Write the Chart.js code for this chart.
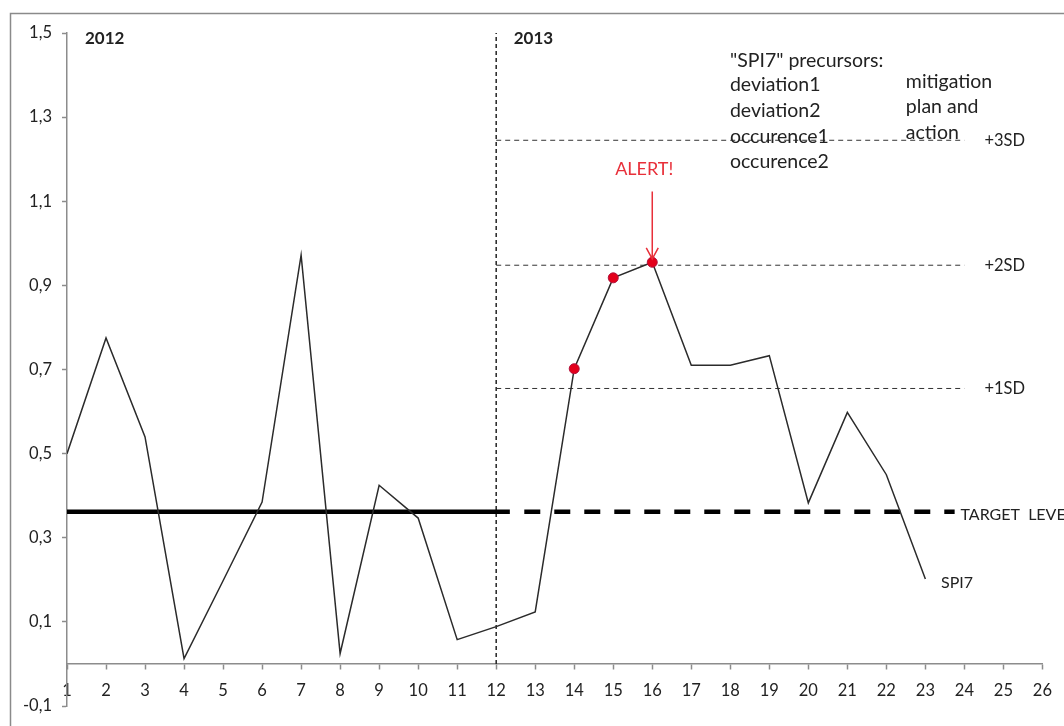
<!DOCTYPE html>
<html>
<head>
<meta charset="utf-8">
<script src="https://cdn.jsdelivr.net/npm/chart.js@4.4.1/dist/chart.umd.min.js"></script>
<style>
  html, body { margin: 0; padding: 0; background: #ffffff; }
  #wrap { width: 1064px; height: 726px; position: relative; }
</style>
</head>
<body>
<div id="wrap"><canvas id="c" width="1064" height="726"></canvas></div>
<script>
// ---- data ----
const categories = [1,2,3,4,5,6,7,8,9,10,11,12,13,14,15,16,17,18,19,20,21,22,23];
const spi7Values = [0.50,0.775,0.54,0.013,0.198,0.385,0.972,0.025,0.425,0.347,0.058,0.089,0.124,0.702,0.918,0.955,0.710,0.710,0.733,0.383,0.598,0.450,0.202];
const alertCategories = [14,15,16];
const targetLevel = 0.362;
const targetSolidRange = [1, 12.35];
const targetDashedRange = [12.72, 23.75];
const sdLevels = [0.655, 0.948, 1.245];
const sdLabels = ['+1SD','+2SD','+3SD'];
const sdRange = [12, 24];
const yearSplit = 12;
const yearSplitRange = [0, 1.5];
const yTicks = [-0.1,0.1,0.3,0.5,0.7,0.9,1.1,1.3,1.5];
const xRange = [1, 26];

const FONT = 'Lato, "Open Sans", sans-serif';
const TEXT = '#222222';
const AXIS = '#8c8c8c';
const RED = '#e8303a';

function seg(x0, x1, y) { return [{x:x0,y:y},{x:x1,y:y}]; }

const datasets = [];
// SPI7 series
datasets.push({
  label: 'SPI7',
  data: categories.map((c,i)=>({x:c,y:spi7Values[i]})),
  borderColor: '#2b2b2b',
  borderWidth: 1.5,
  tension: 0,
  pointRadius: ctx => alertCategories.includes(ctx.raw && ctx.raw.x) ? 5 : 0,
  pointBackgroundColor: '#e3001b',
  pointBorderColor: '#b0103a',
  pointBorderWidth: 1,
  order: 0
});
// Target level (solid for 2012, dashed for 2013)
datasets.push({ label:'target-solid', data: seg(targetSolidRange[0], targetSolidRange[1], targetLevel),
  borderColor:'#000', borderWidth:4.5, pointRadius:0, order: 2 });
datasets.push({ label:'target-dashed', data: seg(targetDashedRange[0], targetDashedRange[1], targetLevel),
  borderColor:'#000', borderWidth:4.5, borderDash:[16,14], pointRadius:0, order: 2 });
// SD lines
sdLevels.forEach((v,i)=>{
  datasets.push({ label: sdLabels[i], data: seg(sdRange[0], sdRange[1], v),
    borderColor:'#333', borderWidth:1, borderDash:[5,4], pointRadius:0, order: 3 });
});
// Year split vertical
datasets.push({ label:'year-split', data:[{x:yearSplit,y:yearSplitRange[0]},{x:yearSplit,y:yearSplitRange[1]}],
  borderColor:'#222', borderWidth:1.5, borderDash:[4,3], pointRadius:0, order: 3 });

const annotations = [
  {t:'2012', x:1.46, y:1.488, bold:true, size:17},
  {t:'2013', x:12.45, y:1.488, bold:true, size:17},
  {t:'"SPI7" precursors:', x:17.99, y:1.433, size:19.5},
  {t:'deviation1', x:17.99, y:1.376, size:19.5},
  {t:'deviation2', x:17.99, y:1.315, size:19.5},
  {t:'occurence1', x:17.99, y:1.253, size:19.5},
  {t:'occurence2', x:17.99, y:1.193, size:19.5},
  {t:'mitigation', x:22.5, y:1.384, size:19.5},
  {t:'plan and', x:22.5, y:1.325, size:19.5},
  {t:'action', x:22.5, y:1.264, size:19.5},
  {t:'TARGET  LEVEL', x:23.9, y:0.355, size:16},
  {t:'SPI7', x:23.4, y:0.193, size:16},
];

const decor = {
  id: 'decor',
  afterDraw(chart) {
    const {ctx, scales:{x, y}} = chart;
    ctx.save();
    // outer frame
    ctx.strokeStyle = '#8a8a8a';
    ctx.lineWidth = 1.5;
    ctx.strokeRect(10.5, 13.5, 1200, 800);
    // annotations
    ctx.fillStyle = TEXT;
    ctx.textBaseline = 'middle';
    ctx.textAlign = 'left';
    annotations.forEach(a=>{
      ctx.font = (a.bold ? 'bold ' : '') + a.size + 'px ' + FONT;
      ctx.fillText(a.t, x.getPixelForValue(a.x), y.getPixelForValue(a.y));
    });
    ctx.font = '16.5px ' + FONT;
    sdLabels.forEach((lab,i)=>{
      ctx.fillText(lab, x.getPixelForValue(sdRange[1]) + 20, y.getPixelForValue(sdLevels[i]));
    });
    // ALERT
    const ax = x.getPixelForValue(16);
    ctx.fillStyle = RED;
    ctx.font = '18px ' + FONT;
    ctx.textAlign = 'center';
    ctx.fillText('ALERT!', ax - 8, y.getPixelForValue(1.177));
    const y0 = y.getPixelForValue(1.123), y1 = y.getPixelForValue(0.963);
    ctx.strokeStyle = RED;
    ctx.lineWidth = 1.5;
    ctx.beginPath();
    ctx.moveTo(ax, y0); ctx.lineTo(ax, y1);
    ctx.moveTo(ax - 6, y1 - 11); ctx.lineTo(ax, y1); ctx.lineTo(ax + 6, y1 - 11);
    ctx.stroke();
    ctx.restore();
  }
};

new Chart(document.getElementById('c'), {
  type: 'line',
  data: { datasets },
  options: {
    responsive: false,
    animation: false,
    devicePixelRatio: 1,
    layout: { padding: { left: 0, right: 19, top: 33, bottom: 15 } },
    plugins: { legend: { display: false }, tooltip: { enabled: false } },
    scales: {
      x: {
        type: 'linear',
        min: xRange[0], max: xRange[1],
        position: { y: 0 },
        ticks: { stepSize: 1, color: TEXT, font: { family: FONT, size: 16.5 }, padding: 12, maxRotation: 0, autoSkip: false },
        grid: { drawOnChartArea: false, drawTicks: true, tickLength: 5, tickColor: AXIS, tickWidth: 1.5 },
        border: { color: AXIS, width: 1.5 }
      },
      y: {
        type: 'linear',
        min: yTicks[0], max: yTicks[yTicks.length-1],
        afterBuildTicks: s => { s.ticks = yTicks.map(v=>({value:v})); },
        afterFit: s => { s.width = 67; },
        ticks: { color: TEXT, font: { family: FONT, size: 16.5 }, padding: 10,
          callback: v => v.toFixed(1).replace('.', ',') },
        grid: { drawOnChartArea: false, drawTicks: true, tickLength: 5, tickColor: AXIS, tickWidth: 1.5 },
        border: { color: AXIS, width: 1.5 }
      }
    }
  },
  plugins: [decor]
});
</script>
</body>
</html>
